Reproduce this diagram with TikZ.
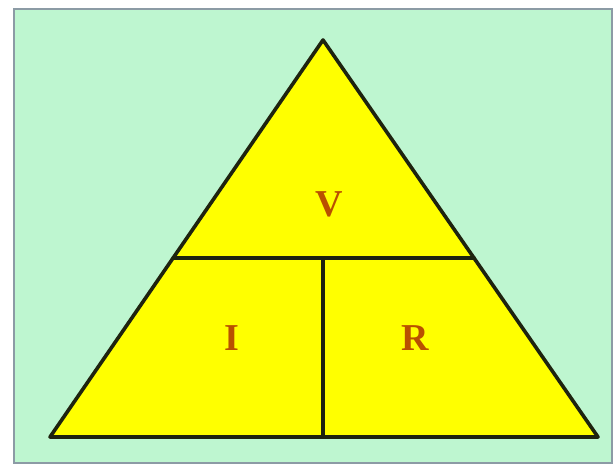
\documentclass[tikz,border=0pt]{standalone}
\usepackage{fontspec}
\setmainfont{Liberation Serif}
\usetikzlibrary{calc}

\definecolor{mint}{RGB}{190,246,208}
\definecolor{framecol}{RGB}{140,155,165}
\definecolor{lincol}{RGB}{30,35,15}
\definecolor{lblcol}{RGB}{185,80,0}
\definecolor{fillcol}{RGB}{255,255,0}

\begin{document}
\begin{tikzpicture}[
  x=1pt, y=-1pt,
  edge/.style={draw=lincol, line width=3.6pt, line join=round, line cap=round},
  part/.style={font=\fontsize{38}{44}\selectfont\bfseries, text=lblcol, inner sep=0pt}
]
\useasboundingbox (0,0) rectangle (615,466);
\fill[white] (0,0) rectangle (615,466);
\draw[framecol, fill=mint, line width=1.5pt] (14,9) rectangle (612,463);

% corners of the triangle
\coordinate (apex) at (323,40);
\coordinate (bl) at (50,437);
\coordinate (br) at (598,437);
\coordinate (ml) at ($(apex)!0.549!(bl)$);
\coordinate (mr) at ($(apex)!0.549!(br)$);
\coordinate (mm) at (323,258);
\coordinate (bm) at (323,437);

\filldraw[edge, fill=fillcol] (apex) -- (bl) -- (br) -- cycle;
\draw[edge] (ml) -- (mr);
\draw[edge] (mm) -- (bm);

\node[part] (v) at (329,204) {V};
\node[part] (i) at (232,338) {I};
\node[part] (r) at (415,338) {R};
\end{tikzpicture}
\end{document}
